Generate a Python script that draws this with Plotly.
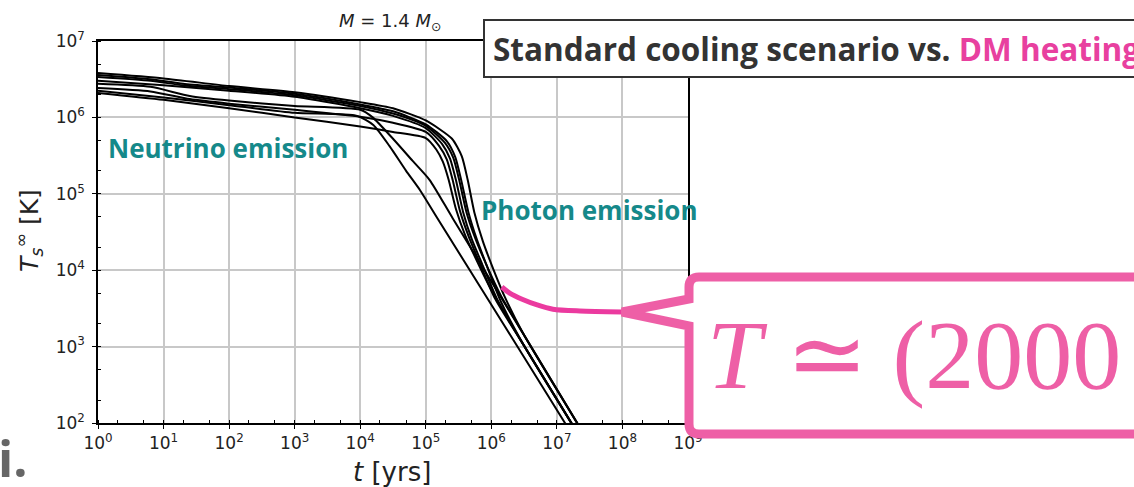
import plotly.graph_objects as go

# Cooling tracks: log10(age / yr) and log10(T_s^inf / K) knots
age_c1 = [0, 1, 2, 3, 4, 4.5, 5, 5.40, 5.55, 5.64, 5.74, 5.87, 6.0, 6.2, 6.5, 7.5]
temp_c1 = [6.58, 6.51, 6.41, 6.33, 6.20, 6.12, 5.96, 5.72, 5.49, 5.18, 4.76, 4.38, 4.08, 3.66, 3.15, 1.73]

age_c2 = [0, 0.8, 1.3, 2, 3, 4, 4.5, 5, 5.32, 5.45, 5.54, 5.65, 5.78, 5.93, 6.15, 6.5, 7.5]
temp_c2 = [6.555, 6.50, 6.44, 6.39, 6.31, 6.17, 6.08, 5.91, 5.69, 5.48, 5.18, 4.76, 4.40, 4.06, 3.58, 3.01, 1.61]

age_c3 = [0, 0.8, 1.3, 2, 3, 4, 4.5, 5, 5.29, 5.42, 5.51, 5.62, 5.75, 5.91, 6.15, 6.5, 7.5]
temp_c3 = [6.53, 6.48, 6.42, 6.37, 6.29, 6.15, 6.05, 5.89, 5.67, 5.47, 5.18, 4.76, 4.43, 4.10, 3.66, 3.15, 1.73]

age_c4 = [0, 1, 2, 3, 4, 4.5, 5, 5.25, 5.37, 5.46, 5.57, 5.70, 5.86, 6.1, 6.5, 7.5]
temp_c4 = [6.48, 6.42, 6.35, 6.27, 6.12, 6.02, 5.86, 5.65, 5.46, 5.18, 4.76, 4.41, 4.08, 3.60, 3.01, 1.61]

age_c5 = [0, 0.8, 1.4, 2, 3, 4, 4.19, 4.5, 4.8, 5.06, 5.41, 6.5, 7.5]
temp_c5 = [6.44, 6.40, 6.28, 6.22, 6.15, 6.10, 6.00, 5.72, 5.43, 5.18, 4.68, 3.15, 1.73]

age_c6 = [0, 0.8, 1.4, 2, 3, 4, 4.5, 5, 5.2, 5.32, 5.41, 5.52, 5.66, 5.82, 6.05, 6.5, 7.5]
temp_c6 = [6.385, 6.34, 6.24, 6.18, 6.10, 6.01, 5.93, 5.81, 5.63, 5.45, 5.18, 4.78, 4.43, 4.10, 3.64, 3.01, 1.61]

age_c7 = [0, 1, 2, 3, 3.95, 4.2, 4.45, 4.7, 4.91, 5.17, 6.5, 7.5]
temp_c7 = [6.35, 6.26, 6.16, 6.06, 6.02, 5.90, 5.62, 5.30, 5.05, 4.69, 2.86, 1.48]

age_c8 = [0, 1, 2, 3, 4, 4.5, 5, 5.16, 5.26, 5.35, 5.46, 5.60, 5.77, 6.0, 6.5, 7.5]
temp_c8 = [6.32, 6.23, 6.12, 6.00, 5.88, 5.81, 5.73, 5.58, 5.42, 5.18, 4.80, 4.46, 4.14, 3.74, 3.01, 1.61]

# Dark-matter heating track (plateau)
age_dm = [6.16, 6.28, 6.47, 6.70, 6.94, 7.35, 7.99]
temp_dm = [3.78, 3.70, 3.62, 3.545, 3.49, 3.466, 3.453]

x_decades = list(range(0, 10))
y_decades = list(range(2, 8))

tracks = [
    (age_c1, temp_c1), (age_c2, temp_c2), (age_c3, temp_c3), (age_c4, temp_c4),
    (age_c5, temp_c5), (age_c6, temp_c6), (age_c7, temp_c7), (age_c8, temp_c8),
]

W, H = 1134, 487
L, R, T, B = 98, 688, 41, 423


def fx(px):
    return (px - L) / (R - L)


def fy(py):
    return (B - py) / (B - T)


fig = go.Figure()
for a, tmp in tracks:
    fig.add_trace(go.Scatter(
        x=[10 ** v for v in a], y=[10 ** v for v in tmp], mode="lines",
        line=dict(color="black", width=2, shape="spline", smoothing=0.6),
        showlegend=False, hoverinfo="skip"))

fig.add_trace(go.Scatter(
    x=[10 ** v for v in age_dm], y=[10 ** v for v in temp_dm], mode="lines",
    line=dict(color="#EB3A9F", width=5, shape="spline", smoothing=0.8),
    showlegend=False, hoverinfo="skip"))

tick_font = dict(family="DejaVu Sans", size=17, color="#222")
fig.update_xaxes(
    type="log", range=[0, 9],
    tickvals=[10 ** d for d in x_decades],
    ticktext=[f"10<sup>{d}</sup>" for d in x_decades],
    tickfont=tick_font, ticks="outside", ticklen=4, tickcolor="black",
    showline=True, linecolor="black", linewidth=1.5, mirror=True,
    showgrid=True, gridcolor="#c8c8c8", gridwidth=1.5, zeroline=False,
    minor=dict(ticks="inside", ticklen=3, tickcolor="black", showgrid=False),
)
fig.update_yaxes(
    type="log", range=[2, 7],
    tickvals=[10 ** d for d in y_decades],
    ticktext=[f"10<sup>{d}</sup>" for d in y_decades],
    tickfont=tick_font, ticks="outside", ticklen=4, tickcolor="black",
    showline=True, linecolor="black", linewidth=1.5, mirror=True,
    showgrid=True, gridcolor="#c8c8c8", gridwidth=1.5, zeroline=False,
    minor=dict(ticks="inside", ticklen=3, tickcolor="black", showgrid=False),
    ticklabelstandoff=4,
)

pink = "#EE5FA6"
teal = "#15898A"

# Header box
fig.add_shape(type="rect", xref="paper", yref="paper",
              x0=fx(484), x1=fx(1250), y0=fy(77), y1=fy(20),
              line=dict(color="#333", width=2), fillcolor="white", layer="above")

# Speech bubble pointing at the heating plateau
bl, bt, bb, br, rr = 689, 277, 434, 1250, 10
tip_x, tip_y = 622, 312
pts = [
    ("M", bl, bt + rr), ("Q", bl, bt, bl + rr, bt), ("L", br, bt), ("L", br, bb),
    ("L", bl + rr, bb), ("Q", bl, bb, bl, bb - rr), ("L", bl, 326),
    ("L", tip_x, tip_y), ("L", bl, 299),
]
path = ""
for p in pts:
    cmd = p[0]
    coords = p[1:]
    s = " ".join(f"{fx(coords[i]):.5f},{fy(coords[i + 1]):.5f}" for i in range(0, len(coords), 2))
    path += f"{cmd} {s} "
path += "Z"
fig.add_shape(type="path", xref="paper", yref="paper", path=path,
              line=dict(color=pink, width=9), fillcolor="white", layer="above")

ann = [
    dict(x=fx(491), y=fy(48), xanchor="left", yanchor="middle",
         text="Standard cooling scenario vs. <span style='color:#E8409F'>DM heating</span>",
         font=dict(family="Open Sans", size=31.5, color="#333", weight="bold")),
    dict(x=fx(705), y=fy(355), xanchor="left", yanchor="middle",
         text="<i>T</i> ≃ (2000",
         font=dict(family="Liberation Serif", size=98, color=pink)),
    dict(x=fx(106), y=fy(148), xanchor="left", yanchor="middle",
         text="Neutrino emission",
         font=dict(family="Open Sans", size=26, color=teal, weight="bold")),
    dict(x=fx(479), y=fy(210), xanchor="left", yanchor="middle",
         text="Photon emission",
         font=dict(family="Open Sans", size=26, color=teal, weight="bold")),
    dict(x=fx(390), y=fy(22), xanchor="center", yanchor="middle",
         text="<i>M</i> = 1.4 <i>M</i><sub>⊙</sub>",
         font=dict(family="DejaVu Sans", size=18, color="#222")),
    dict(x=fx(392), y=fy(472), xanchor="center", yanchor="middle",
         text="<i>t</i> [yrs]",
         font=dict(family="DejaVu Sans", size=26, color="#222")),
    dict(x=fx(29), y=fy(231), xanchor="center", yanchor="middle", textangle=-90,
         text="<i>T</i><sub><i>s</i></sub><sup>∞</sup> [K]",
         font=dict(family="DejaVu Sans", size=25, color="#222")),
    dict(x=fx(-4), y=fy(458), xanchor="left", yanchor="middle",
         text="i.",
         font=dict(family="Open Sans", size=50, color="#666", weight="bold")),
]
for a in ann:
    fig.add_annotation(xref="paper", yref="paper", showarrow=False, **a)

fig.update_layout(
    width=W, height=H,
    margin=dict(l=L, r=W - R, t=T, b=H - B),
    paper_bgcolor="white", plot_bgcolor="white",
    showlegend=False,
)

fig.write_html("out.html")
